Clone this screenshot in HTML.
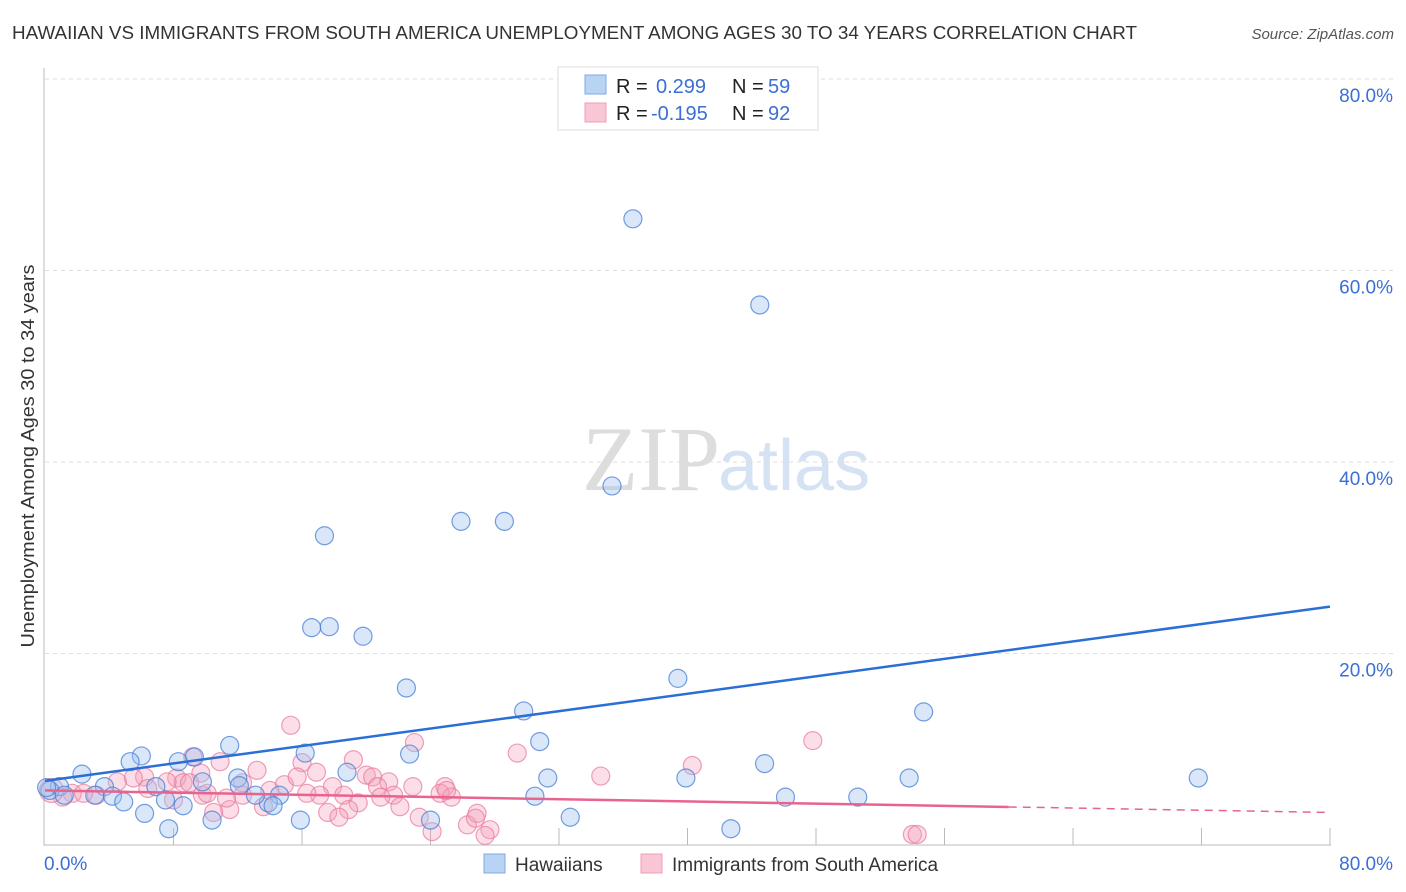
<!DOCTYPE html>
<html><head><meta charset="utf-8"><style>
body{margin:0;background:#fff;font-family:"Liberation Sans",sans-serif;}
#wrap{position:relative;width:1406px;height:892px;overflow:hidden;}
</style></head><body>
<div id="wrap">
<svg id="svg" width="1406" height="892" xmlns="http://www.w3.org/2000/svg">
<text x="12" y="39" font-size="18" fill="#333" textLength="1125" lengthAdjust="spacingAndGlyphs">HAWAIIAN VS IMMIGRANTS FROM SOUTH AMERICA UNEMPLOYMENT AMONG AGES 30 TO 34 YEARS CORRELATION CHART</text>
<text x="1394" y="39" font-size="15" fill="#555" font-style="italic" text-anchor="end">Source: ZipAtlas.com</text>
<text x="720" y="490" font-size="92" fill="#ddd" text-anchor="end" font-family="Liberation Serif">ZIP</text>
<text x="718" y="490" font-size="72" fill="#d4e2f4">atlas</text>
<text transform="translate(34,456) rotate(-90)" font-size="18" fill="#333" text-anchor="middle" textLength="383" lengthAdjust="spacingAndGlyphs">Unemployment Among Ages 30 to 34 years</text>
<g id="grid"></g><g id="pts"></g><g id="lines"></g>
<g>
<rect x="558" y="67" width="260" height="63" fill="#fff" stroke="#ddd"/>
<rect x="585" y="75" width="21" height="19" fill="#b9d3f5" stroke="#7fa9e6"/>
<rect x="585" y="103" width="21" height="19" fill="#f8c6d5" stroke="#ee9fb7"/>
<text x="616" y="93" font-size="20" fill="#222">R = </text><text x="656" y="93" font-size="20" fill="#3b6fd4">0.299</text>
<text x="732" y="93" font-size="20" fill="#222">N = </text><text x="768" y="93" font-size="20" fill="#3b6fd4">59</text>
<text x="616" y="120" font-size="20" fill="#222">R = </text><text x="651" y="120" font-size="20" fill="#3b6fd4">-0.195</text>
<text x="732" y="120" font-size="20" fill="#222">N = </text><text x="768" y="120" font-size="20" fill="#3b6fd4">92</text>
</g>
<g>
<rect x="484" y="854" width="21" height="19" fill="#b9d3f5" stroke="#7fa9e6"/>
<text x="515" y="871" font-size="19" fill="#333">Hawaiians</text>
<rect x="641" y="854" width="21" height="19" fill="#f8c6d5" stroke="#ee9fb7"/>
<text x="672" y="871" font-size="19" fill="#333">Immigrants from South America</text>
</g>
</svg>
</div>
<script>
const blueX=[36.6,44.5,35.3,25.9,28.6,17.4,16.6,17.7,19.8,22.5,39.4,29.8,54.7,30.8,16.2,22.7,11.5,6.0,9.3,5.3,8.3,2.3,18.8,31.3,39.9,44.8,53.8,71.8,12.0,9.8,30.5,46.1,50.6,14.6,12.1,6.9,3.7,0.9,4.2,4.9,7.5,8.6,13.9,14.2,6.2,10.4,15.9,24.0,32.7,7.7,42.7,0.3,1.2,3.1,13.1,0.1];
const blueY=[65.4,56.4,37.5,33.8,33.8,32.3,22.7,22.8,21.8,16.4,17.4,14.0,13.9,10.8,9.6,9.5,10.4,9.3,9.2,8.7,8.7,7.4,7.6,7.0,7.0,8.5,7.0,7.0,7.0,6.6,5.1,5.0,5.0,5.2,6.2,6.1,6.1,6.1,5.1,4.5,4.7,4.1,4.4,4.1,3.3,2.6,2.6,2.6,2.9,1.7,1.7,5.7,5.2,5.2,5.2,6.0];
const pinkX=[15.3,23.0,29.4,19.2,10.9,9.2,16.0,13.2,16.9,20.0,20.4,21.4,22.9,24.9,9.7,6.2,5.5,4.5,8.2,8.6,7.6,14.9,15.7,17.9,18.6,17.1,20.7,21.7,20.9,19.5,18.9,17.6,18.3,22.1,23.3,24.1,26.3,26.9,26.8,27.7,27.4,24.6,25.3,11.5,10.5,9.8,12.3,13.6,14.0,16.3,11.3,8.0,1.7,1.1,3.2,2.4,6.4,9.0,12.3,10.1,40.3,34.6,47.8,54.0,54.3,25.0,0.4];
const pinkY=[12.5,10.7,9.6,8.9,8.7,9.2,8.6,7.8,7.6,7.3,7.1,6.6,6.1,6.1,7.5,7.1,7.0,6.6,7.0,6.5,6.6,6.3,7.1,6.1,5.2,5.2,6.1,5.2,5.0,4.4,3.7,3.4,2.9,4.0,2.9,1.4,2.1,3.3,2.8,1.6,1.0,5.4,5.0,3.7,3.4,5.2,5.2,4.0,5.7,5.4,4.9,4.7,5.4,5.0,5.2,5.4,5.9,6.5,6.5,5.4,8.3,7.2,10.9,1.1,1.1,5.7,5.7];
const yTicks=[20,40,60,80];
const yTickLabels=["20.0%","40.0%","60.0%","80.0%"];
const xTicks=[8,16,24,32,40,48,56,64,72,80];
const blueTrend=[6.7,24.9];
const pinkTrend=[5.7,3.4];
const NS="http://www.w3.org/2000/svg";
const X=v=>45+v/80*1285, Y=v=>845-v*9.575;
function mk(t,a,p){const e=document.createElementNS(NS,t);for(const k in a)e.setAttribute(k,a[k]);p.appendChild(e);return e;}
const g=document.getElementById('grid'),pts=document.getElementById('pts'),ln=document.getElementById('lines');
yTicks.forEach((t,i)=>{
 const l=mk('line',{x1:45,x2:1394,y1:Y(t),y2:Y(t),stroke:'#ddd','stroke-dasharray':'4,4'},g);
 
 
 const tx=mk('text',{x:1393,y:Y(t)+23,'font-size':19,fill:'#3b6fd4','text-anchor':'end'},g);
 tx.textContent=yTickLabels[i];
 
 
});
xTicks.forEach(t=>{
 const l=mk('line',{x1:X(t),x2:X(t),y1:828,y2:845,stroke:'#bbb'},g);
 
 
});
const ax=mk('path',{d:'M44 68 V845 H1331',fill:'none',stroke:'#bbb'},g);


const x0=mk('text',{x:44,y:870,'font-size':19,fill:'#3b6fd4'},g);x0.textContent='0.0%';


const x1=mk('text',{x:1393,y:870,'font-size':19,fill:'#3b6fd4','text-anchor':'end'},g);x1.textContent='80.0%';


pinkX.forEach((v,i)=>{
 const c=mk('circle',{cx:X(v),cy:Y(pinkY[i]),r:i==pinkX.length-1?12:9,fill:'rgba(244,160,185,0.35)',stroke:'rgba(232,120,155,0.7)','stroke-width':1.2},pts);
 
 
});
blueX.forEach((v,i)=>{
 const c=mk('circle',{cx:X(v),cy:Y(blueY[i]),r:9,fill:'rgba(160,195,240,0.4)',stroke:'rgba(70,125,215,0.75)','stroke-width':1.2},pts);
 
 
});
const bl=mk('line',{x1:X(0),y1:Y(blueTrend[0]),x2:X(80),y2:Y(blueTrend[1]),stroke:'#2b6fd6','stroke-width':2.5},ln);


const pm=pinkTrend[0]+(pinkTrend[1]-pinkTrend[0])*60/80;
const pl=mk('line',{x1:X(0),y1:Y(pinkTrend[0]),x2:X(60),y2:Y(pm),stroke:'#e8648f','stroke-width':2.5},ln);


const pd=mk('line',{x1:X(60),y1:Y(pm),x2:X(80),y2:Y(pinkTrend[1]),stroke:'#e8648f','stroke-width':1.5,'stroke-dasharray':'8,6'},ln);


</script>
</body></html>
